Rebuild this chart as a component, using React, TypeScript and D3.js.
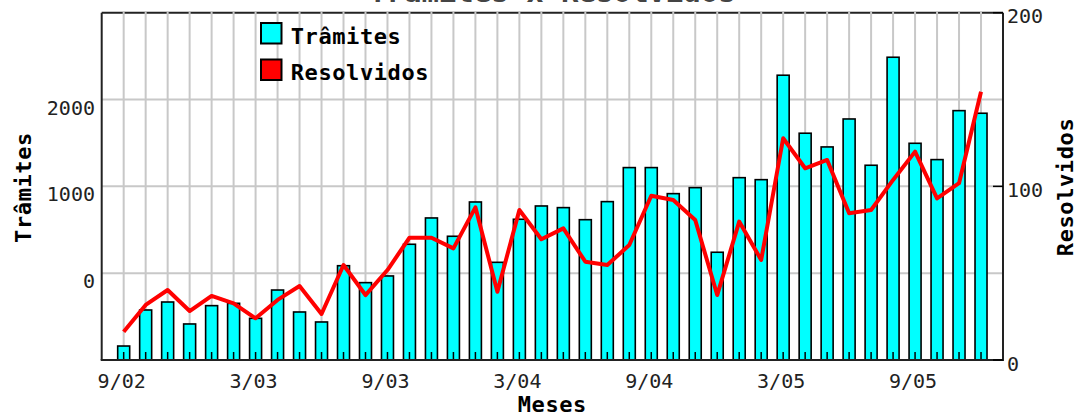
import React from "react";
import * as d3 from "d3";

const months = [
  "9/02","10/02","11/02","12/02","1/03","2/03","3/03","4/03","5/03","6/03",
  "7/03","8/03","9/03","10/03","11/03","12/03","1/04","2/04","3/04","4/04",
  "5/04","6/04","7/04","8/04","9/04","10/04","11/04","12/04","1/05","2/05",
  "3/05","4/05","5/05","6/05","7/05","8/05","9/05","10/05","11/05","12/05",
];
const xTickLabels = ["9/02", "3/03", "9/03", "3/04", "9/04", "3/05", "9/05"];

const tramites = [
  -839, -424, -332, -585, -374, -347, -520, -194, -447, -562,
  86, -109, -32, 333, 636, 425, 820, 125, 621, 774,
  755, 616, 824, 1216, 1216, 916, 985, 241, 1100, 1077, 2280,
  1612, 1454, 1776, 1243, 2487, 1496, 1308, 1872, 1842,
];
const resolvidos = [
  16.3, 31.7, 40.3, 28.2, 36.9, 32.6, 24, 34.6, 42.6, 26.5,
  54.7, 37.4, 51.8, 70.4, 70.4, 64.3, 87.9, 39.3, 86.4, 69.5,
  75.8, 56.6, 54.7, 66.2, 94.6, 92.1, 80.6, 37.4, 79.7, 57.6, 127.7,
  110.4, 115.2, 84.5, 86.4, 103.7, 120, 93.1, 101.8, 154.5,
];
const leftDomain = [-1000, 3000];
const leftTicks = [0, 1000, 2000];
const leftGrid = [0, 1000, 2000];
const rightDomain = [0, 200];
const rightTicks = [0, 100, 200];

const W = 1077;
const H = 418;
const L = 101.7;
const R = 1003;
const T = 12.7;
const B = 360;

const MONO = "'DejaVu Sans Mono', monospace";

export default function App() {
  const x = d3.scaleLinear().domain([-1, months.length]).range([L, R]);
  const yL = d3.scaleLinear().domain(leftDomain).range([B, T]);
  const yR = d3.scaleLinear().domain(rightDomain).range([B, T]);
  const barW = 12;
  const line = d3
    .line<number>()
    .x((_, i) => x(i))
    .y((d) => yR(d));
  const grid = "#c8c8c8";

  return (
    <svg
      width={W}
      height={H}
      style={{ position: "absolute", left: 0, top: 0, background: "#fff" }}
    >
      {/* title (mostly cut off, as in the reference) */}
      <text
        x={(L + R) / 2}
        y={2}
        textAnchor="middle"
        fontFamily={MONO}
        fontWeight="bold"
        fontSize={29}
        fill="#444"
      >
        Trâmites x Resolvidos
      </text>
      {/* top border */}
      <line x1={L} x2={R} y1={T} y2={T} stroke="#222" strokeWidth={2} />
      {/* grid */}
      {months.map((m, i) => (
        <line
          key={"vg" + m}
          x1={x(i)}
          x2={x(i)}
          y1={T - 1}
          y2={B}
          stroke={grid}
          strokeWidth={2}
        />
      ))}
      {leftGrid.map((v) => (
        <line
          key={"hg" + v}
          x1={L}
          x2={R}
          y1={yL(v)}
          y2={yL(v)}
          stroke={grid}
          strokeWidth={2}
        />
      ))}
      {/* bars */}
      {tramites.map((v, i) => (
        <rect
          key={"b" + i}
          x={x(i) - barW / 2}
          y={yL(v)}
          width={barW}
          height={yL(leftDomain[0]) - yL(v)}
          fill="#00ffff"
          stroke="#000"
          strokeWidth={1.6}
        />
      ))}
      {/* bottom ticks */}
      {months.map((m, i) => (
        <line
          key={"t" + m}
          x1={x(i)}
          x2={x(i)}
          y1={B}
          y2={B - 8}
          stroke="#000"
          strokeWidth={1.5}
        />
      ))}
      {/* resolvidos line */}
      <path
        d={line(resolvidos) || ""}
        fill="none"
        stroke="#ff0000"
        strokeWidth={4}
        strokeLinejoin="round"
      />
      {/* frame left/right/bottom */}
      <line x1={L} x2={L} y1={T} y2={B} stroke="#222" strokeWidth={2} />
      <line x1={R} x2={R} y1={T} y2={B} stroke="#222" strokeWidth={2} />
      <line x1={L - 1} x2={R + 1} y1={B} y2={B} stroke="#222" strokeWidth={2} />
      {/* right ticks */}
      {rightTicks.map((v) => (
        <line
          key={"rt" + v}
          x1={R - 10}
          x2={R}
          y1={yR(v)}
          y2={yR(v)}
          stroke="#000"
          strokeWidth={1.5}
        />
      ))}
      {/* left tick labels */}
      {leftTicks.map((v) => (
        <text
          key={"lt" + v}
          x={95}
          y={yL(v) + 15}
          textAnchor="end"
          fontFamily={MONO}
          fontSize={20}
          fill="#222"
        >
          {v}
        </text>
      ))}
      {/* right tick labels */}
      {rightTicks.map((v) => (
        <text
          key={"rl" + v}
          x={1007}
          y={yR(v) + 10.5}
          textAnchor="start"
          fontFamily={MONO}
          fontSize={20}
          fill="#222"
        >
          {v}
        </text>
      ))}
      {/* x tick labels */}
      {xTickLabels.map((lab) => (
        <text
          key={"xl" + lab}
          x={x(months.indexOf(lab)) - 2}
          y={388}
          textAnchor="middle"
          fontFamily={MONO}
          fontSize={20}
          fill="#222"
        >
          {lab}
        </text>
      ))}
      {/* axis titles */}
      <text
        x={(L + R) / 2}
        y={412}
        textAnchor="middle"
        fontFamily={MONO}
        fontWeight="bold"
        fontSize={22}
        letterSpacing={0.6}
        fill="#000"
      >
        Meses
      </text>
      <text
        transform={`translate(31,187.5) rotate(-90)`}
        textAnchor="middle"
        fontFamily={MONO}
        fontWeight="bold"
        fontSize={22}
        letterSpacing={0.6}
        fill="#000"
      >
        Trâmites
      </text>
      <text
        transform={`translate(1073,187) rotate(-90)`}
        textAnchor="middle"
        fontFamily={MONO}
        fontWeight="bold"
        fontSize={22}
        letterSpacing={0.6}
        fill="#000"
      >
        Resolvidos
      </text>
      {/* legend */}
      <rect x={261} y={23} width={20.5} height={20.5} fill="#00ffff" stroke="#000" strokeWidth={2} />
      <text x={290.7} y={44} fontFamily={MONO} fontWeight="bold" fontSize={22} letterSpacing={0.6} fill="#000">
        Trâmites
      </text>
      <rect x={261} y={59.5} width={20.5} height={20.5} fill="#ff0000" stroke="#000" strokeWidth={2} />
      <text x={290.7} y={80} fontFamily={MONO} fontWeight="bold" fontSize={22} letterSpacing={0.6} fill="#000">
        Resolvidos
      </text>
    </svg>
  );
}
